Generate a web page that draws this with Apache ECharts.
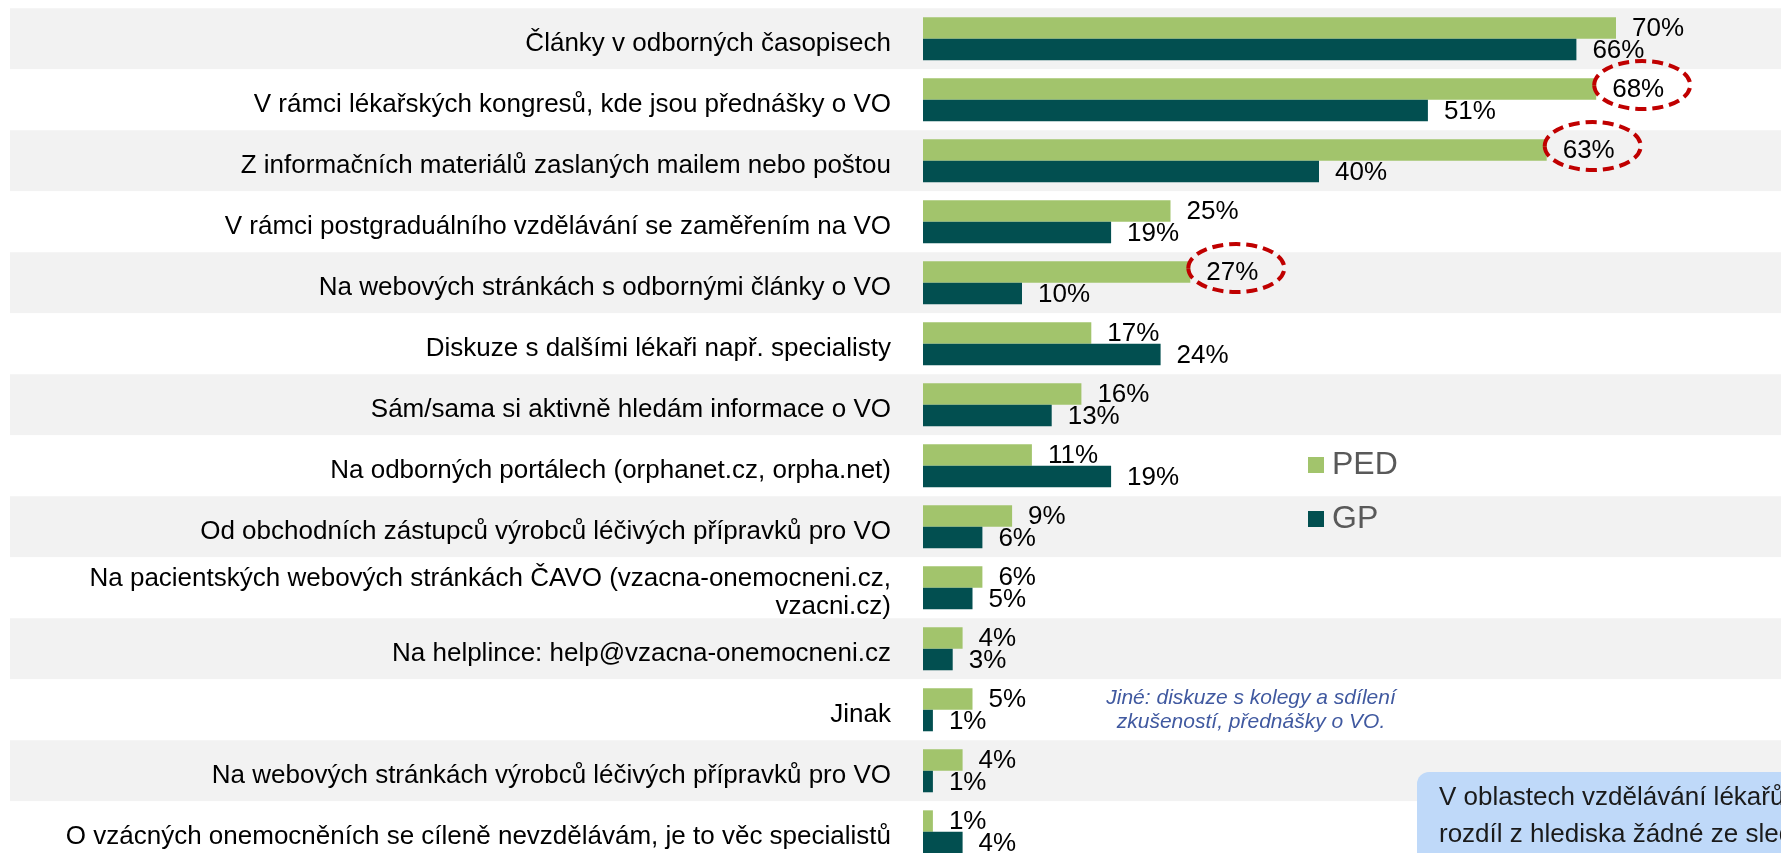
<!DOCTYPE html>
<html>
<head>
<meta charset="utf-8">
<script src="https://cdn.jsdelivr.net/npm/echarts@6/dist/echarts.min.js"></script>
<style>
  html, body { margin: 0; padding: 0; background: #fff; overflow: hidden; }
  #wrap { width: 1781px; height: 853px; overflow: hidden; }
  #bar { width: 1781px; height: 864px; }
</style>
</head>
<body>
<div id="wrap"><div id="bar"></div></div>
<script>
// kategorie (odshora dolů)
const categories = [
  'Články v odborných časopisech',
  'V rámci lékařských kongresů, kde jsou přednášky o VO',
  'Z informačních materiálů zaslaných mailem nebo poštou',
  'V rámci postgraduálního vzdělávání se zaměřením na VO',
  'Na webových stránkách s odbornými články o VO',
  'Diskuze s dalšími lékaři např. specialisty',
  'Sám/sama si aktivně hledám informace o VO',
  'Na odborných portálech (orphanet.cz, orpha.net)',
  'Od obchodních zástupců výrobců léčivých přípravků pro VO',
  'Na pacientských webových stránkách ČAVO (vzacna-onemocneni.cz,\nvzacni.cz)',
  'Na helplince: help@vzacna-onemocneni.cz',
  'Jinak',
  'Na webových stránkách výrobců léčivých přípravků pro VO',
  'O vzácných onemocněních se cíleně nevzdělávám, je to věc specialistů'
]
const pedValues = [70, 68, 63, 25, 27, 17, 16, 11, 9, 6, 4, 5, 4, 1]
const gpValues = [66, 51, 40, 19, 10, 24, 13, 19, 6, 5, 3, 1, 1, 4]
// zakroužkované hodnoty PED (index kategorie)
const highlighted = [1, 2, 4]

const FONT = '"Liberation Sans", Arial, sans-serif'
const PED_COLOR = '#A2C46C'
const GP_COLOR = '#024F50'

const chart = echarts.init(document.getElementById('bar'))

const valueLabel = {
  show: true,
  position: 'right',
  distance: 16,
  offset: [0, 1],
  formatter: '{c}%',
  color: '#000',
  fontSize: 26,
  fontFamily: FONT
}

const option = {
  animation: false,
  grid: [
    // pruhy na pozadí
    { left: 10, right: 0, top: 8.3, height: 854 },
    // samotný graf (9.9 px na 1 %)
    { left: 923, right: 0, top: 8.3, height: 854 }
  ],
  xAxis: [
    { gridIndex: 0, type: 'value', min: 0, max: 1, show: false },
    { gridIndex: 1, type: 'value', min: 0, max: 858 / 9.9, show: false }
  ],
  yAxis: [
    {
      gridIndex: 0,
      type: 'category',
      data: categories,
      inverse: true,
      z: 0,
      axisLine: { show: false },
      axisTick: { show: false },
      axisLabel: { show: false },
      splitLine: { show: false },
      splitArea: {
        show: true,
        areaStyle: { color: ['#F2F2F2', '#FFFFFF'] }
      }
    },
    {
      gridIndex: 1,
      type: 'category',
      data: categories,
      inverse: true,
      z: 3,
      axisLine: { show: false },
      axisTick: { show: false },
      splitLine: { show: false },
      axisLabel: {
        margin: 32,
        align: 'right',
        // každý řádek zvlášť, aby šel text posunout níž
        formatter: function (value) {
          return value.split('\n').map(s => '{t|' + s + '}').join('\n')
        },
        rich: {
          t: {
            color: '#000',
            fontSize: 26,
            lineHeight: 28,
            fontFamily: FONT,
            padding: [10, 0, 0, 0]
          }
        }
      }
    }
  ],
  legend: {
    data: ['PED', 'GP'],
    orient: 'vertical',
    left: 1308,
    top: 449,
    padding: 0,
    icon: 'rect',
    itemWidth: 16,
    itemHeight: 16,
    itemGap: 22,
    textStyle: {
      fontSize: 32,
      color: '#595959',
      fontFamily: FONT,
      padding: [0, 0, 0, 3]
    }
  },
  series: [
    {
      name: 'PED',
      type: 'bar',
      xAxisIndex: 1,
      yAxisIndex: 1,
      data: pedValues,
      barGap: '0%',
      barCategoryGap: '29.6%',
      itemStyle: { color: PED_COLOR },
      label: valueLabel
    },
    {
      name: 'GP',
      type: 'bar',
      xAxisIndex: 1,
      yAxisIndex: 1,
      data: gpValues,
      barGap: '0%',
      barCategoryGap: '29.6%',
      itemStyle: { color: GP_COLOR },
      label: valueLabel
    },
    {
      // červené přerušované elipsy kolem vybraných hodnot
      name: 'highlight',
      type: 'custom',
      xAxisIndex: 1,
      yAxisIndex: 1,
      z: 5,
      data: highlighted.map(i => [pedValues[i], i]),
      renderItem: function (params, api) {
        const p = api.coord([api.value(0), api.value(1)])
        const band = api.size([0, 1])[1]
        return {
          type: 'ellipse',
          shape: { cx: p[0] + 46, cy: p[1] - band * 0.176 - 4, rx: 48, ry: 24 },
          style: { fill: 'none', stroke: '#C00000', lineWidth: 4, lineDash: [11, 6] }
        }
      }
    }
  ],
  graphic: [
    {
      type: 'text',
      z: 10,
      x: 1251,
      y: 686,
      style: {
        text: 'Jiné: diskuze s kolegy a sdílení\nzkušeností, přednášky o VO.',
        fill: '#4059A0',
        font: 'italic 21px ' + FONT,
        lineHeight: 24,
        align: 'center',
        verticalAlign: 'top'
      }
    },
    {
      type: 'rect',
      z: 10,
      shape: { x: 1417, y: 772, width: 500, height: 120, r: 12 },
      style: { fill: '#BFD9F9' }
    },
    {
      type: 'text',
      z: 11,
      x: 1439,
      y: 779,
      style: {
        text: 'V oblastech vzdělávání lékařů nebyl\nrozdíl z hlediska žádné ze sledovaných',
        fill: '#1a1a1a',
        font: '26px ' + FONT,
        lineHeight: 37,
        align: 'left',
        verticalAlign: 'top'
      }
    }
  ]
}

chart.setOption(option, true)
</script>
</body>
</html>
